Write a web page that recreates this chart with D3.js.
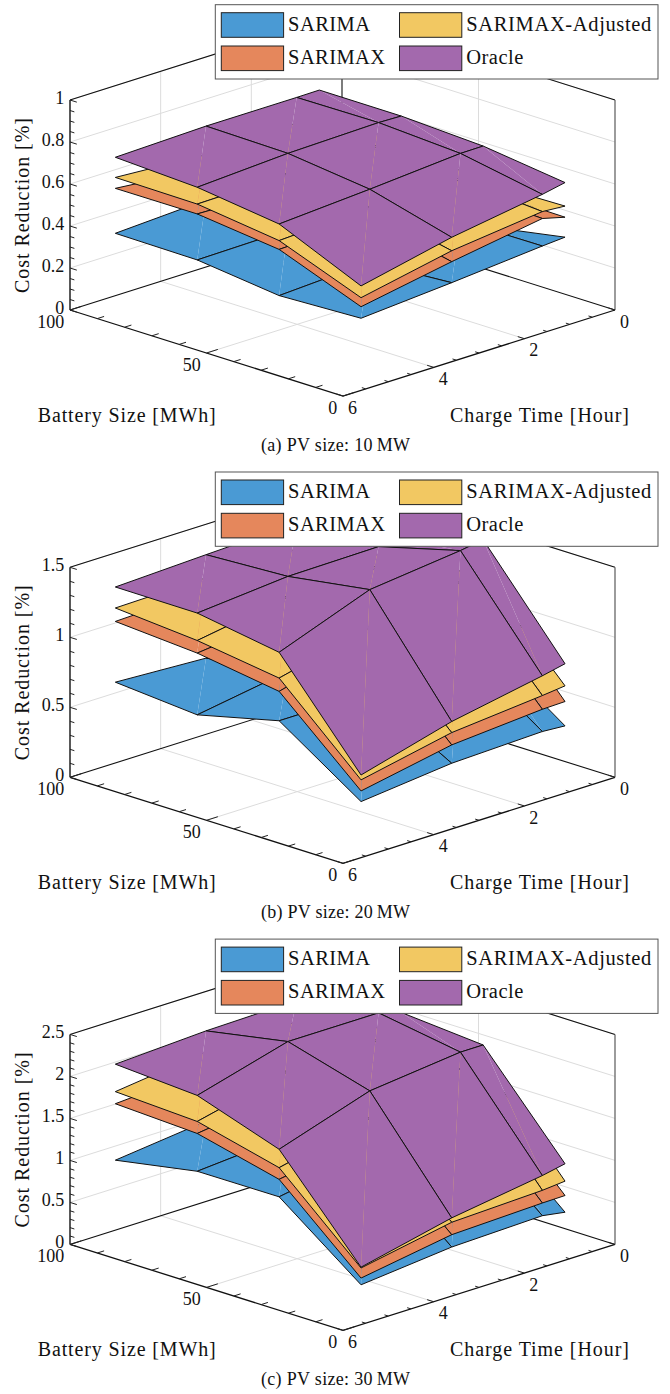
<!DOCTYPE html>
<html>
<head>
<meta charset="utf-8">
<script src="https://cdn.jsdelivr.net/npm/d3@7"></script>
<style>
  body { margin: 0; background: #fff; }
  text { font-family: "Liberation Serif", serif; fill: #111; }
</style>
</head>
<body>
<div id="chart"></div>
<script>
// grid the surfaces were computed on
var batterySizes = [100, 70, 40, 10];
var chargeTimes = [5, 3, 1, 0.5];

var seriesNames = ["SARIMA", "SARIMAX", "SARIMAX-Adjusted", "Oracle"];
var seriesColors = ["#4a9ad4", "#e5875c", "#f2c862", "#a369ad"];
var legendWidths = [82, 97, 185, 57];

// rows follow batterySizes, columns follow chargeTimes
var sarima10 = [[.297, .319, .34, .34], [.293, .299, .33, .33], [.246, .269, .33, .27], [.261, .294, .332, .34]];
var sarimax10 = [[.511, .47, .49, .49], [.512, .5, .5, .49], [.466, .48, .48, .44], [.316, .394, .463, .435]];
var adjusted10 = [[.563, .535, .55, .55], [.559, .565, .56, .55], [.508, .53, .525, .48], [.359, .446, .496, .488]];
var oracle10 = [[.659, .671, .671, .672], [.639, .664, .674, .671], [.587, .616, .65, .651], [.415, .51, .578, .6]];

var sarima20 = [[.577, .544, .56, .56], [.528, .633, .64, .64], [.67, .67, .768, .768], [.277, .346, .368, .357]];
var sarimax20 = [[1.011, 1.03, 1.04, 1.04], [.969, 1.04, 1.08, 1.08], [.88, 1.05, 1.15, 1.18], [.353, .477, .527, .531]];
var adjusted20 = [[1.107, 1.118, 1.12, 1.12], [1.059, 1.164, 1.17, 1.17], [.975, 1.13, 1.25, 1.25], [.432, .565, .625, .643]];
var oracle20 = [[1.257, 1.283, 1.305, 1.313], [1.255, 1.312, 1.32, 1.319], [1.159, 1.402, 1.476, 1.503], [.467, .644, .766, .801]];

var sarima30 = [[.832, .955, .97, .97], [1.007, 1.09, 1.1, 1.1], [1.01, 1.2, 1.22, 1.22], [.27, .378, .41, .366]];
var sarimax30 = [[1.504, 1.57, 1.58, 1.58], [1.457, 1.6, 1.62, 1.62], [1.218, 1.4, 1.55, 1.55], [.35, .525, .561, .565]];
var adjusted30 = [[1.648, 1.78, 1.8, 1.8], [1.6, 1.85, 1.88, 1.88], [1.357, 1.6, 1.85, 1.85], [.47, .673, .712, .736]];
var oracle30 = [[1.975, 2.03, 2.05, 2.06], [1.91, 2.21, 2.21, 2.13], [1.576, 1.93, 2.05, 2.05], [.48, .725, .888, .943]];

var zMajor10 = [0, 0.2, 0.4, 0.6, 0.8, 1];
var zMajor20 = [0, 0.5, 1, 1.5];
var zMajor30 = [0, 0.5, 1, 1.5, 2, 2.5];

var batteryTicks = [0, 50, 100];
var chargeTicks = [0, 2, 4, 6];

var panels = [
    { top: 0, zMax: 1, zMajor: zMajor10, zStep: 0.05, caption: "(a) PV size: 10\u2009MW", surfaces: [sarima10, sarimax10, adjusted10, oracle10] },
    { top: 467.3, zMax: 1.5, zMajor: zMajor20, zStep: 0.1, caption: "(b) PV size: 20\u2009MW", surfaces: [sarima20, sarimax20, adjusted20, oracle20] },
    { top: 934.4, zMax: 2.5, zMajor: zMajor30, zStep: 0.1, caption: "(c) PV size: 30\u2009MW", surfaces: [sarima30, sarimax30, adjusted30, oracle30] }
];

var svg = d3.select("#chart")
    .append("svg")
    .attr("width", 670)
    .attr("height", 1394);

// oblique projection, one scale per screen direction
var originX = 343, originY = 396;
var batteryX = d3.scaleLinear().domain([0, 100]).range([0, -273]);
var batteryY = d3.scaleLinear().domain([0, 100]).range([0, -86]);
var chargeX = d3.scaleLinear().domain([6, 0]).range([0, 272]);
var chargeY = d3.scaleLinear().domain([6, 0]).range([0, -86]);

var pathLine = d3.line();

function fitText(sel, width) {
    return sel.attr("textLength", width).attr("lengthAdjust", "spacing");
}

panels.forEach(function (panel) {
    var g = svg.append("g").attr("transform", `translate(0, ${panel.top})`);
    var zScale = d3.scaleLinear().domain([0, panel.zMax]).range([0, -210]);

    function project(b, c, z) {
        return [originX + batteryX(b) + chargeX(c), originY + batteryY(b) + chargeY(c) + zScale(z)];
    }

    function segment(points, stroke, width) {
        g.append("path")
            .attr("d", pathLine(points))
            .attr("fill", "none")
            .attr("stroke", stroke)
            .attr("stroke-width", width);
    }

    // grid on the floor and the two back walls
    var gridColor = "#dcdcdc";
    panel.zMajor.slice(1).forEach(function (z) {
        segment([project(100, 6, z), project(100, 0, z), project(0, 0, z)], gridColor, 1);
    });
    chargeTicks.slice(1, 3).forEach(function (c) {
        segment([project(0, c, 0), project(100, c, 0), project(100, c, panel.zMax)], gridColor, 1);
    });
    segment([project(50, 6, 0), project(50, 0, 0), project(50, 0, panel.zMax)], gridColor, 1);

    // box edges behind the surfaces
    segment([project(100, 6, 0), project(100, 0, 0), project(0, 0, 0)], "#111", 1.1);
    segment([project(100, 0, 0), project(100, 0, panel.zMax)], "#111", 1.1);
    segment([project(100, 6, panel.zMax), project(100, 0, panel.zMax), project(0, 0, panel.zMax)], "#111", 1.1);
    segment([project(0, 0, 0), project(0, 0, panel.zMax)], "#666", 1.3);

    // surfaces, lowest first and each one back to front
    panel.surfaces.forEach(function (values, s) {
        var layer = g.append("g");
        d3.range(batterySizes.length - 1).forEach(function (i) {
            d3.range(chargeTimes.length - 2, -1, -1).forEach(function (j) {
                var p00 = project(batterySizes[i], chargeTimes[j], values[i][j]);
                var p01 = project(batterySizes[i], chargeTimes[j + 1], values[i][j + 1]);
                var p10 = project(batterySizes[i + 1], chargeTimes[j], values[i + 1][j]);
                var p11 = project(batterySizes[i + 1], chargeTimes[j + 1], values[i + 1][j + 1]);
                // two triangles per cell, the shared edge leaves the faint seam
                layer.append("path").attr("d", pathLine([p00, p01, p10]) + "Z")
                    .attr("fill", seriesColors[s]);
                layer.append("path").attr("d", pathLine([p01, p11, p10]) + "Z")
                    .attr("fill", seriesColors[s]);
                layer.append("path").attr("d", pathLine([p00, p01, p11, p10]) + "Z")
                    .attr("fill", "none")
                    .attr("stroke", "#111")
                    .attr("stroke-width", 1)
                    .attr("stroke-linejoin", "round");
            });
        });
    });

    // front axes
    segment([project(100, 6, 0), project(100, 6, panel.zMax)], "#222", 1.5);
    segment([project(100, 6, 0), project(0, 6, 0), project(0, 0, 0)], "#111", 1.3);

    // z ticks lean along the battery axis
    d3.range(0, panel.zMax + 1e-6, panel.zStep).forEach(function (z) {
        var major = panel.zMajor.some(function (m) { return Math.abs(m - z) < 1e-6; });
        segment([project(100, 6, z), project(major ? 97.5 : 98.4, 6, z)], "#222", 1);
    });
    d3.range(0, 100.1, 10).forEach(function (b) {
        var major = batteryTicks.indexOf(b) >= 0;
        segment([project(b, 6, 0), project(b, major ? 5.75 : 5.85, 0)], "#222", 1);
    });
    d3.range(0, 6.01, 0.5).forEach(function (c) {
        var major = chargeTicks.indexOf(c) >= 0;
        segment([project(0, c, 0), project(major ? 2.4 : 1.4, c, 0)], "#222", 1);
    });

    // tick labels
    panel.zMajor.forEach(function (z) {
        g.append("text")
            .attr("x", 64.3)
            .attr("y", project(100, 6, z)[1] + 4)
            .attr("text-anchor", "end")
            .attr("font-size", 18)
            .text(z);
    });
    batteryTicks.forEach(function (b) {
        var p = project(b, 6, 0);
        g.append("text")
            .attr("x", p[0] - 5.7)
            .attr("y", p[1] + 17.7)
            .attr("text-anchor", "end")
            .attr("font-size", 18)
            .text(b);
    });
    chargeTicks.forEach(function (c) {
        var p = project(0, c, 0);
        g.append("text")
            .attr("x", p[0] + 5)
            .attr("y", p[1] + 17.7)
            .attr("font-size", 18)
            .text(c);
    });

    // axis titles
    fitText(g.append("text")
        .attr("transform", "translate(29, 293) rotate(-90)")
        .attr("font-size", 20)
        .text("Cost Reduction [%]"), 175);
    fitText(g.append("text")
        .attr("x", 37.7)
        .attr("y", 421.5)
        .attr("font-size", 20)
        .text("Battery Size [MWh]"), 178);
    fitText(g.append("text")
        .attr("x", 450)
        .attr("y", 421.5)
        .attr("font-size", 20)
        .text("Charge Time [Hour]"), 179);
    fitText(g.append("text")
        .attr("x", 261)
        .attr("y", 450.5)
        .attr("font-size", 18)
        .text(panel.caption), 149);

    // legend box sits on top of everything
    var legend = g.append("g");
    legend.append("rect")
        .attr("x", 215.3)
        .attr("y", 4.7)
        .attr("width", 442.7)
        .attr("height", 74.3)
        .attr("fill", "#fff")
        .attr("stroke", "#555")
        .attr("stroke-width", 1);
    var legendX = d3.scaleOrdinal().domain([0, 1]).range([221.3, 399.5]);
    var legendY = d3.scaleOrdinal().domain([0, 1]).range([12.7, 46]);
    seriesNames.forEach(function (name, s) {
        var col = s < 2 ? 0 : 1;
        var row = s % 2;
        legend.append("rect")
            .attr("x", legendX(col))
            .attr("y", legendY(row))
            .attr("width", 62.3)
            .attr("height", 24.6)
            .attr("fill", seriesColors[s])
            .attr("stroke", "#222")
            .attr("stroke-width", 1);
        fitText(legend.append("text")
            .attr("x", legendX(col) + 66.8)
            .attr("y", legendY(row) + 18)
            .attr("font-size", 20.5)
            .text(name), legendWidths[s]);
    });
});
</script>
</body>
</html>
